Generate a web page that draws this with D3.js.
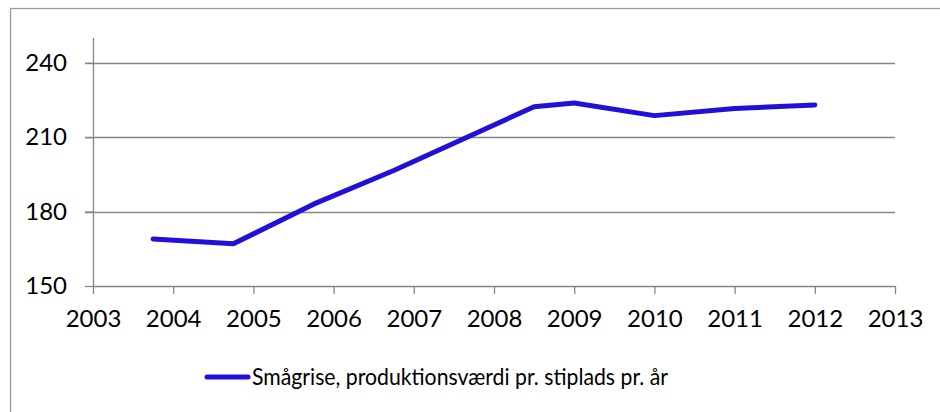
<!DOCTYPE html>
<html>
<head>
<meta charset="utf-8">
<script src="https://cdn.jsdelivr.net/npm/d3@7"></script>
<style>
  html, body { margin: 0; padding: 0; background: #ffffff; }
  svg { display: block; font-family: Lato, "Open Sans", sans-serif; }
</style>
</head>
<body>
<svg id="chart" width="940" height="412"></svg>
<script>
const years = [2003.75, 2004.75, 2005.75, 2006.75, 2008.5, 2009, 2010, 2011, 2012];
const values = [169.0, 167.0, 183.0, 196.6, 222.3, 223.8, 218.7, 221.6, 223.0];
const seriesName = "Smågrise, produktionsværdi pr. stiplads pr. år";
const xTicks = [2003, 2004, 2005, 2006, 2007, 2008, 2009, 2010, 2011, 2012, 2013];
const yTicks = [150, 180, 210, 240];

const svg = d3.select("#chart");
const fontSize = 24;
const gridColor = "#868686";
const lineColor = "#2010D8";

// outer chart border
svg.append("rect")
  .attr("x", 10.5).attr("y", 8.5)
  .attr("width", 960).attr("height", 420)
  .attr("fill", "none").attr("stroke", "#9a9a9a").attr("stroke-width", 1.3);

const x = d3.scaleLinear().domain([2003, 2013]).range([93, 895]);
const y = d3.scaleLinear().domain([150, 250]).range([286, 38]);

// horizontal gridlines
svg.append("g")
  .selectAll("line")
  .data(yTicks.filter(d => d !== 150))
  .join("line")
  .attr("x1", x(2003) - 8).attr("x2", x(2013))
  .attr("y1", d => Math.round(y(d)) + 0.5).attr("y2", d => Math.round(y(d)) + 0.5)
  .attr("stroke", gridColor).attr("stroke-width", 1.3);

// y axis
const yAxis = d3.axisLeft(y).tickValues(yTicks).tickSize(8).tickPadding(18).tickFormat(d3.format("d"));
const gy = svg.append("g").attr("transform", `translate(${x(2003)},0)`).call(yAxis);
gy.select(".domain").attr("stroke", gridColor).attr("stroke-width", 1.3).attr("d", `M0.5,${y(250)}V${y(150)}`);
gy.selectAll(".tick line").attr("stroke", gridColor).attr("stroke-width", 1.3);
gy.selectAll(".tick text").attr("fill", "#000").style("font-size", fontSize + "px").style("font-family", "Lato, sans-serif");

// x axis
const xAxis = d3.axisBottom(x).tickValues(xTicks).tickSize(8).tickPadding(16).tickFormat(d3.format("d"));
const gx = svg.append("g").attr("transform", `translate(0,${y(150)})`).call(xAxis);
gx.select(".domain").attr("stroke", gridColor).attr("stroke-width", 1.3).attr("d", `M${x(2003)},0.5H${x(2013)}`);
gx.selectAll(".tick line").attr("stroke", gridColor).attr("stroke-width", 1.3);
gx.selectAll(".tick text").attr("fill", "#000").style("font-size", fontSize + "px").style("font-family", "Lato, sans-serif");

// data line
const data = years.map((yr, i) => ({ x: yr, v: values[i] }));
const line = d3.line().x(d => x(d.x)).y(d => y(d.v));
svg.append("path")
  .datum(data)
  .attr("d", line)
  .attr("fill", "none")
  .attr("stroke", lineColor)
  .attr("stroke-width", 5)
  .attr("stroke-linecap", "round")
  .attr("stroke-linejoin", "round");

// legend
const lg = svg.append("g").attr("transform", "translate(0,377)");
lg.append("line")
  .attr("x1", 207).attr("x2", 248).attr("y1", 0).attr("y2", 0)
  .attr("stroke", lineColor).attr("stroke-width", 5).attr("stroke-linecap", "round");
const lt = lg.append("text")
  .attr("x", 252).attr("y", 8)
  .attr("fill", "#000")
  .style("font-size", fontSize + "px")
  .text(seriesName);
const target = 416;
const len = lt.node().getComputedTextLength();
if (len > target) lt.attr("textLength", target).attr("lengthAdjust", "spacingAndGlyphs");
</script>
</body>
</html>
